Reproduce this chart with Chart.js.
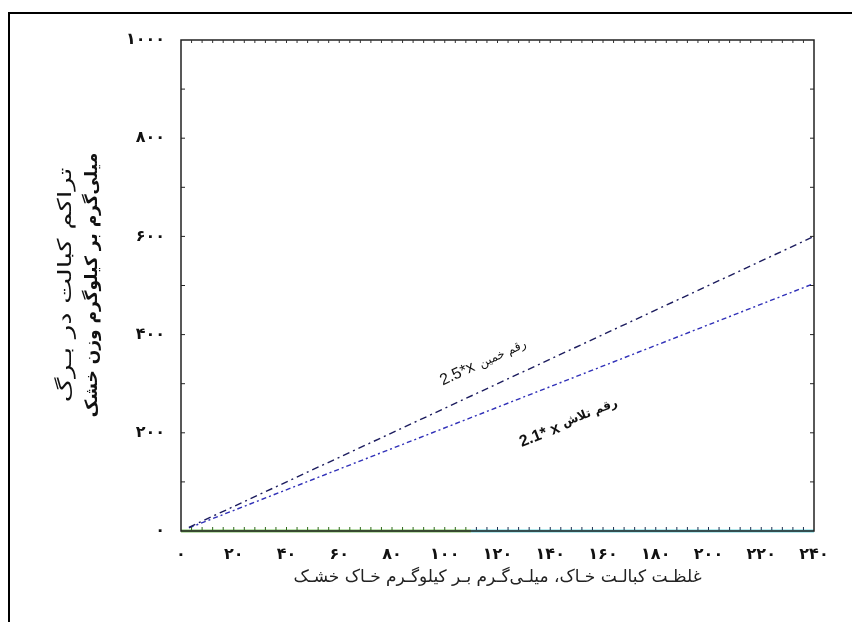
<!DOCTYPE html>
<html>
<head>
<meta charset="utf-8">
<script src="https://cdn.jsdelivr.net/npm/chart.js@4"></script>
<style>
  body { margin: 0; background: #fff; }
  #wrap { position: relative; width: 852px; height: 622px; overflow: hidden; }
  #frame { position: absolute; left: 8px; top: 12px; width: 900px; height: 700px;
           border-top: 2px solid #000; border-left: 2px solid #000; }
</style>
</head>
<body>
<div id="wrap">
  <div id="frame"></div>
  <canvas id="chart" width="852" height="622"></canvas>
</div>
<script>
// داده‌ها
const xValues = [3, 240];
const khaminValues = [7.5, 600];   // 2.5*x
const talashValues = [6.3, 504];   // 2.1*x
const baseX = [0, 110, 240];
const baseY = [0, 0, 0];
const xTicks = [0, 20, 40, 60, 80, 100, 120, 140, 160, 180, 200, 220, 240];
const yTicks = [0, 200, 400, 600, 800, 1000];

const faDigits = "۰۱۲۳۴۵۶۷۸۹";
function toFa(n) {
    return String(n).replace(/\d/g, d => faDigits[d]);
}

function pts(xs, ys) {
    return xs.map((x, i) => ({ x: x, y: ys[i] }));
}

// تیک‌های کوچک داخل کادر، عنوان محور y و برچسب خطوط
const decorPlugin = {
    id: "decor",
    afterDraw(chart) {
        const ctx = chart.ctx;
        const a = chart.chartArea;
        const xs = chart.scales.x, ys = chart.scales.y;
        ctx.save();
        ctx.strokeStyle = "#222";
        ctx.lineWidth = 1.5;
        ctx.strokeRect(a.left, a.top, a.right - a.left, a.bottom - a.top);

        ctx.lineWidth = 1;
        for (let v = 100; v < 1000; v += 100) {
            const py = ys.getPixelForValue(v);
            ctx.beginPath();
            ctx.moveTo(a.left, py); ctx.lineTo(a.left + 4, py);
            ctx.moveTo(a.right, py); ctx.lineTo(a.right - 4, py);
            ctx.stroke();
        }
        for (let v = 4; v < 240; v += 4) {
            const px = xs.getPixelForValue(v);
            ctx.strokeStyle = "#333";
            ctx.beginPath();
            ctx.moveTo(px, a.top); ctx.lineTo(px, a.top + 3);
            ctx.stroke();
            ctx.strokeStyle = v < 110 ? "#2f6a1a" : "#1e3050";
            ctx.beginPath();
            ctx.moveTo(px, a.bottom - 1); ctx.lineTo(px, a.bottom - 4);
            ctx.stroke();
        }

        // عنوان محور y
        ctx.fillStyle = "#111";
        ctx.textAlign = "center";
        ctx.textBaseline = "middle";
        ctx.save();
        ctx.translate(66, 285);
        ctx.rotate(-Math.PI / 2);
        ctx.scale(1.45, 1);
        ctx.font = "19px 'DejaVu Sans'";
        ctx.fillText("تراکم کبالت در بـرگ", 0, 0);
        ctx.restore();
        ctx.save();
        ctx.translate(93, 285);
        ctx.rotate(-Math.PI / 2);
        ctx.font = "bold 17px 'DejaVu Sans'";
        ctx.fillText("میلی‌گرم بر کیلوگرم وزن خشک", 0, 0);
        ctx.restore();

        // برچسب خطوط
        const labels = [
            { x: 104.8, y: 320, text: "2.5*x", font: "16px 'Liberation Sans'", ds: 0 },
            { x: 122, y: 360, text: "رقم خمین", font: "12px 'DejaVu Sans'", ds: 0 },
            { x: 136, y: 195, text: "2.1* x", font: "bold 16px 'Liberation Sans'", ds: 1 },
            { x: 155, y: 240, text: "رقم تلاش", font: "bold 12px 'DejaVu Sans'", ds: 1 }
        ];
        labels.forEach(l => {
            const d = chart.data.datasets[l.ds].data;
            const ang = Math.atan2(ys.getPixelForValue(d[1].y) - ys.getPixelForValue(d[0].y),
                                   xs.getPixelForValue(d[1].x) - xs.getPixelForValue(d[0].x));
            ctx.save();
            ctx.translate(xs.getPixelForValue(l.x), ys.getPixelForValue(l.y));
            ctx.rotate(ang);
            ctx.font = l.font;
            ctx.fillStyle = "#111";
            ctx.fillText(l.text, 0, 0);
            ctx.restore();
        });
        ctx.restore();
    }
};

new Chart(document.getElementById("chart"), {
    type: "line",
    data: {
        datasets: [
            {
                label: "رقم خمین",
                data: pts(xValues, khaminValues),
                borderColor: "#1c1c5e",
                borderWidth: 1.4,
                borderDash: [7, 4, 2, 4],
                pointRadius: 0
            },
            {
                label: "رقم تلاش",
                data: pts(xValues, talashValues),
                borderColor: "#3030b8",
                borderWidth: 1.4,
                borderDash: [5, 3, 2, 3],
                pointRadius: 0
            },
            {
                label: "base",
                data: pts(baseX, baseY),
                borderWidth: 3,
                pointRadius: 0,
                segment: {
                    borderColor: c => c.p0.parsed.x < 110 ? "#7cc060" : "#6fd4dc"
                }
            }
        ]
    },
    options: {
        responsive: false,
        animation: false,
        clip: false,
        layout: { padding: { left: 0, top: 40, right: 38, bottom: 0 } },
        plugins: { legend: { display: false }, tooltip: { enabled: false } },
        scales: {
            x: {
                type: "linear",
                min: 0, max: 240,
                afterFit: s => { s.height = 91; },
                afterBuildTicks: s => { s.ticks = xTicks.map(v => ({ value: v })); },
                grid: { display: false },
                border: { display: false },
                ticks: {
                    padding: 6,
                    color: "#111",
                    font: { family: "DejaVu Sans", size: 16, weight: "bold" },
                    callback: v => toFa(v),
                    maxRotation: 0
                },
                title: {
                    display: true,
                    text: "غلظـت کبالـت خـاک، میلـی‌گـرم بـر کیلوگـرم خـاک خشـک",
                    color: "#222",
                    font: { family: "DejaVu Sans", size: 17 },
                    padding: { top: 4, bottom: 34 }
                }
            },
            y: {
                type: "linear",
                min: 0, max: 1000,
                afterFit: s => { s.width = 181; },
                afterBuildTicks: s => { s.ticks = yTicks.map(v => ({ value: v })); },
                grid: { display: false },
                border: { display: false },
                ticks: {
                    padding: 8,
                    color: "#111",
                    font: { family: "DejaVu Sans", size: 16, weight: "bold" },
                    callback: v => toFa(v)
                }
            }
        }
    },
    plugins: [decorPlugin]
});
</script>
</body>
</html>
